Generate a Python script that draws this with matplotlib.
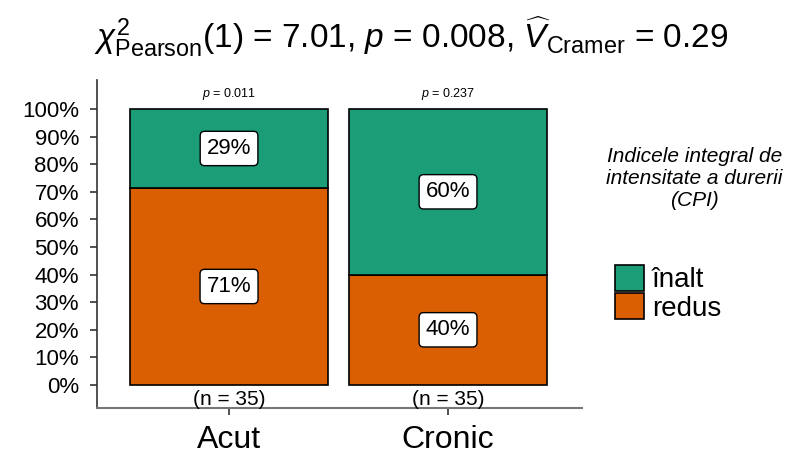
import matplotlib
matplotlib.use("Agg")
import matplotlib.pyplot as plt
import numpy as np

plt.rcParams['font.family'] = ['Liberation Sans', 'DejaVu Sans']
plt.rcParams['mathtext.fontset'] = 'custom'
plt.rcParams['mathtext.rm'] = 'Liberation Sans'
plt.rcParams['mathtext.it'] = 'Liberation Sans:italic'
plt.rcParams['mathtext.bf'] = 'Liberation Sans:bold'

categories = ["Acut", "Cronic"]
pct_inalt = [28.6, 60.0]
pct_redus = [71.4, 40.0]
labels_inalt = ["29%", "60%"]
labels_redus = ["71%", "40%"]
n_labels = ["(n = 35)", "(n = 35)"]
p_labels = ["$p$ = 0.011", "$p$ = 0.237"]
yticks = [0, 10, 20, 30, 40, 50, 60, 70, 80, 90, 100]
legend_labels = ["înalt", "redus"]
legend_title = "Indicele integral de\nintensitate a durerii\n(CPI)"
title = r"$\chi^{2}_{\mathrm{Pearson}}(1)$ = 7.01, $p$ = 0.008, $\widehat{V}_{\mathrm{Cramer}}$ = 0.29"

col_inalt = "#1b9e77"
col_redus = "#d95f02"

fig = plt.figure(figsize=(7.93, 4.57), dpi=100)
ax = fig.add_axes([0.1223, 0.1072, 0.734 - 0.1223, 0.8249 - 0.1072])

x = np.arange(1, len(categories) + 1)
w = 0.904
b_lo = ax.bar(x, pct_redus, width=w, color=col_redus, edgecolor="black", linewidth=1.2)
b_hi = ax.bar(x, pct_inalt, width=w, bottom=pct_redus, color=col_inalt, edgecolor="black", linewidth=1.2)

bbox = dict(boxstyle="round,pad=0.3,rounding_size=0.2", fc="white", ec="black", lw=1)
for i in range(len(categories)):
    ax.text(x[i], pct_redus[i] / 2, labels_redus[i], ha="center", va="center", fontsize=16, bbox=bbox)
    ax.text(x[i], pct_redus[i] + pct_inalt[i] / 2, labels_inalt[i], ha="center", va="center", fontsize=16, bbox=bbox)
    ax.text(x[i], -5.2, n_labels[i], ha="center", va="center", fontsize=15)
    ax.text(x[i], 105.4, p_labels[i], ha="center", va="center", fontsize=9)

ax.set_xlim(0.397, 2.612)
ax.set_ylim(-8.33, 110.5)
ax.set_xticks(x)
ax.set_xticklabels(categories, fontsize=23)
ax.set_yticks(yticks)
ax.set_yticklabels([f"{v}%" for v in yticks], fontsize=16)
ax.tick_params(axis="both", length=5, width=1.2, color="#333333")
ax.tick_params(axis="x", pad=7)
ax.tick_params(axis="y", pad=8)
for s in ["top", "right"]:
    ax.spines[s].set_visible(False)
ax.spines["left"].set_color("#333333")
ax.spines["bottom"].set_color("#777777")
ax.spines["left"].set_linewidth(1.2)
ax.spines["bottom"].set_linewidth(1.5)

fig.text(0.519, 0.92, title, ha="center", va="center", fontsize=24)
fig.text(0.876, 0.61, legend_title, ha="center", va="center", fontsize=15, style="italic", linespacing=1.2)

fig.legend([b_hi, b_lo], legend_labels, loc="upper left", bbox_to_anchor=(0.775, 0.42),
           frameon=False, fontsize=20, handlelength=1.05, handleheight=1.05,
           handletextpad=0.3, labelspacing=0.0, borderpad=0, borderaxespad=0)

fig.savefig("out.png", dpi=100)
